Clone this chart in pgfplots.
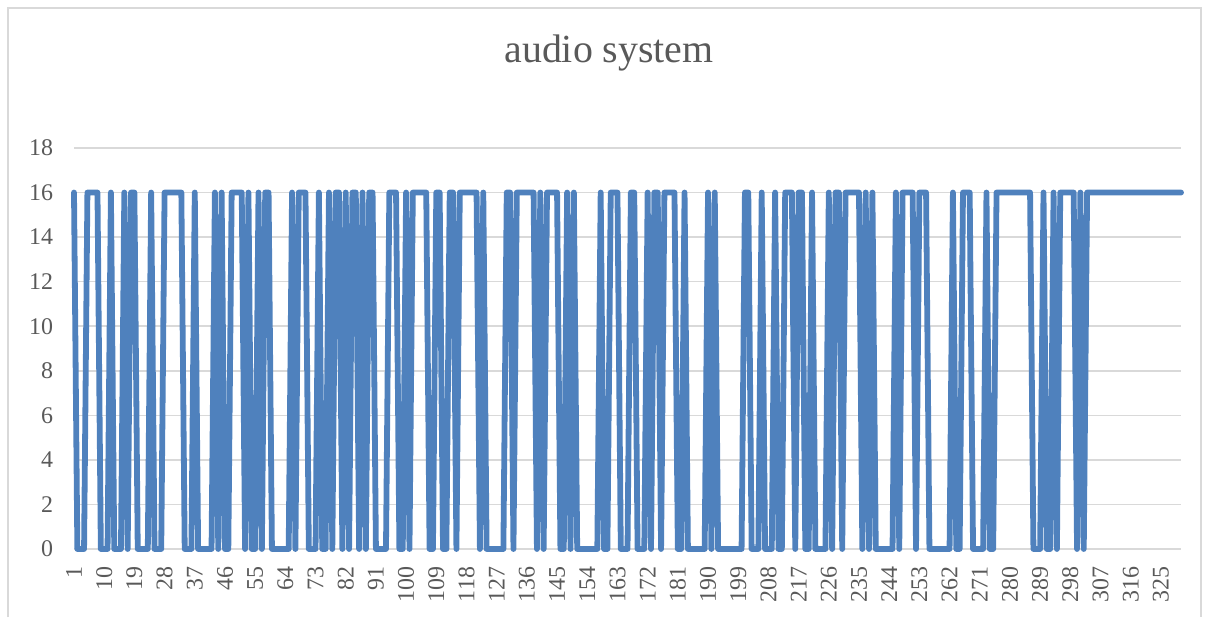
\documentclass[border=0pt]{standalone}
\usepackage{fontspec}
\setmainfont{Liberation Serif}
\usepackage{pgfplots}
\pgfplotsset{compat=1.18}
\definecolor{serie}{HTML}{4F81BD}
\definecolor{gridc}{HTML}{D9D9D9}
\definecolor{txt}{HTML}{595959}
\begin{document}
\begin{tikzpicture}[x=0.5bp,y=0.5bp]
\useasboundingbox (0,0) rectangle (1209,617);
\draw[gridc, line width=0.6bp] (8,0) -- (8,609) -- (1201,609) -- (1201,0);
\node[txt, font=\fontsize{20}{24}\selectfont] at (609,564) {audio system};
\begin{axis}[
  at={(37bp,34bp)}, anchor=south west,
  width=553.5bp, height=200.5bp, scale only axis,
  xmin=1, xmax=331, ymin=0, ymax=18,
  axis line style={draw=none},
  major tick length=0pt,
  ytick={0,2,...,18},
  xtick={1,10,...,325},
  ymajorgrids, grid style={gridc, line width=0.75bp},
  tick label style={txt, font=\fontsize{12}{14}\selectfont},
  /pgf/number format/assume math mode=true,
  yticklabel style={xshift=-7bp},
  xticklabel style={rotate=90, anchor=east, xshift=-5.5bp},
  clip=false,
]
\addplot[serie, line width=2.9bp, line join=round, line cap=round, mark=none]
 table[x expr=\coordindex+1, y=y, row sep=\\] {
y\\
16\\0\\0\\0\\16\\16\\16\\16\\0\\0\\
0\\16\\0\\0\\0\\16\\0\\16\\16\\0\\
0\\0\\0\\16\\0\\0\\0\\16\\16\\16\\
16\\16\\16\\0\\0\\0\\16\\0\\0\\0\\
0\\0\\16\\0\\16\\0\\0\\16\\16\\16\\
16\\0\\16\\0\\0\\16\\0\\16\\16\\0\\
0\\0\\0\\0\\0\\16\\0\\16\\16\\16\\
0\\0\\0\\16\\0\\0\\16\\0\\16\\16\\
0\\16\\0\\16\\16\\0\\16\\0\\16\\16\\
0\\0\\0\\0\\16\\16\\16\\0\\0\\16\\
0\\16\\16\\16\\16\\16\\0\\0\\16\\16\\
0\\0\\16\\16\\0\\16\\16\\16\\16\\16\\
16\\0\\16\\0\\0\\0\\0\\0\\0\\16\\
16\\0\\16\\16\\16\\16\\16\\16\\0\\16\\
0\\16\\16\\16\\16\\0\\0\\16\\0\\16\\
0\\0\\0\\0\\0\\0\\0\\16\\0\\0\\
16\\16\\16\\0\\0\\0\\16\\16\\0\\0\\
0\\16\\0\\16\\16\\0\\16\\16\\16\\16\\
0\\0\\16\\0\\0\\0\\0\\0\\0\\16\\
0\\16\\0\\0\\0\\0\\0\\0\\0\\0\\
16\\16\\0\\0\\0\\16\\0\\0\\0\\16\\
0\\0\\16\\16\\16\\0\\16\\16\\0\\0\\
16\\0\\0\\0\\0\\16\\0\\16\\16\\0\\
16\\16\\16\\16\\16\\0\\16\\0\\16\\0\\
0\\0\\0\\0\\0\\16\\0\\16\\16\\16\\
16\\0\\16\\16\\16\\0\\0\\0\\0\\0\\
0\\0\\16\\0\\0\\16\\16\\16\\0\\0\\
0\\0\\16\\0\\0\\16\\16\\16\\16\\16\\
16\\16\\16\\16\\16\\16\\0\\0\\0\\16\\
0\\0\\16\\0\\16\\16\\16\\16\\16\\0\\
16\\0\\16\\16\\16\\16\\16\\16\\16\\16\\
16\\16\\16\\16\\16\\16\\16\\16\\16\\16\\
16\\16\\16\\16\\16\\16\\16\\16\\16\\16\\
16\\
};
\end{axis}
\end{tikzpicture}
\end{document}
